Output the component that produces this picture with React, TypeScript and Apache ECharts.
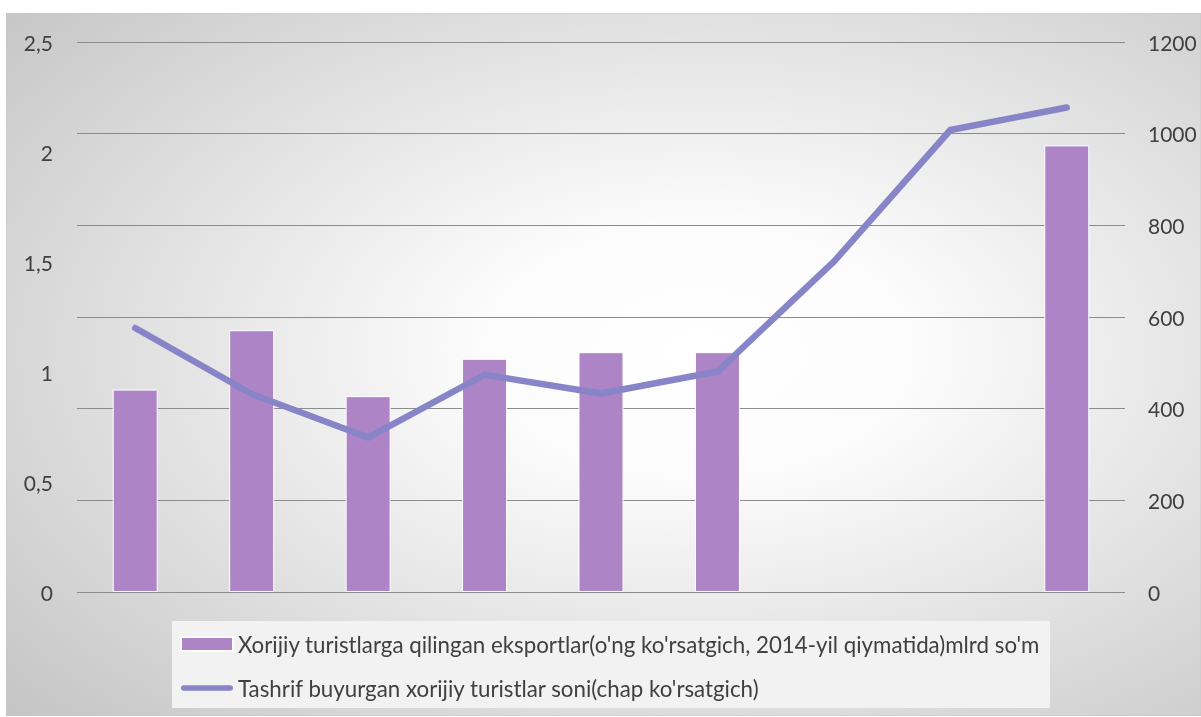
import React, { useEffect, useRef } from "react";
import * as echarts from "echarts";

const categories = ["1", "2", "3", "4", "5", "6", "7", "8", "9"];
const exportValues = [0.92, 1.19, 0.89, 1.06, 1.09, 1.09, null, null, 2.03];
const touristValues = [576, 432, 337, 474, 433, 481, 721, 1008, 1057];
const leftTicks = [0, 0.5, 1, 1.5, 2, 2.5];
const rightTicks = [0, 200, 400, 600, 800, 1000, 1200];

const barName =
  "Xorijiy turistlarga qilingan eksportlar(o'ng ko'rsatgich, 2014-yil qiymatida)mlrd so'm";
const lineName = "Tashrif buyurgan xorijiy turistlar soni(chap ko'rsatgich)";

export default function App() {
  const ref = useRef<HTMLDivElement>(null);
  useEffect(() => {
    if (!ref.current) return;
    const chart = echarts.init(ref.current, null, { renderer: "svg" });
    const font = "Lato, 'Open Sans', sans-serif";
    chart.setOption({
      animation: false,
      graphic: [
        {
          type: "rect",
          z: -10,
          silent: true,
          shape: { x: 0, y: 0, width: 1195, height: 703 },
          style: {
            fill: new echarts.graphic.RadialGradient(0.58, 0.48, 0.8, [
              { offset: 0, color: "#ffffff" },
              { offset: 0.22, color: "#fcfcfc" },
              { offset: 1, color: "#c2c2c2" },
            ]),
            stroke: "#c8c8c8",
            lineWidth: 1,
          },
        },
      ],
      grid: { left: 71, right: 76, top: 29, height: 550, containLabel: false },
      legend: {
        orient: "vertical",
        left: 166,
        top: 608,
        backgroundColor: "#f2f2f2",
        padding: [11, 10, 8, 8],
        itemGap: 20,
        itemWidth: 52,
        itemHeight: 14,
        textStyle: { fontFamily: font, fontSize: 22.3, color: "#404040", lineHeight: 24 },
        data: [
          { name: barName, icon: "rect" },
          { name: lineName, icon: "path://M3,0 L55,0 A3,3 0 0 1 55,6 L3,6 A3,3 0 0 1 3,0 Z" },
        ],
      },
      xAxis: {
        type: "category",
        data: categories,
        axisLine: { show: false },
        axisTick: { show: false },
        axisLabel: { show: false },
      },
      yAxis: [
        {
          type: "value",
          min: leftTicks[0],
          max: leftTicks[leftTicks.length - 1],
          interval: 0.5,
          position: "left",
          axisLine: { show: false },
          axisTick: { show: false },
          splitLine: { show: false },
          axisLabel: {
            margin: 24,
            fontFamily: font,
            fontSize: 21,
            color: "#404040",
            formatter: (v: number) => String(v).replace(".", ","),
          },
        },
        {
          type: "value",
          min: rightTicks[0],
          max: rightTicks[rightTicks.length - 1],
          interval: 200,
          position: "right",
          axisLine: { show: false },
          axisTick: { show: false },
          splitLine: { show: true, lineStyle: { color: "#8c8c8c", width: 1 } },
          axisLabel: {
            margin: 23,
            fontFamily: font,
            fontSize: 21,
            color: "#404040",
            formatter: (v: number) => String(v),
          },
        },
      ],
      series: [
        {
          name: barName,
          type: "bar",
          yAxisIndex: 0,
          data: exportValues,
          barWidth: 45,
          itemStyle: { color: "#ad84c6", borderColor: "#ffffff", borderWidth: 1 },
        },
        {
          name: lineName,
          type: "line",
          yAxisIndex: 1,
          data: touristValues,
          symbol: "none",
          lineStyle: { color: "#8884c8", width: 6.5, cap: "round", join: "round" },
          itemStyle: { color: "#8884c8" },
          z: 5,
        },
      ],
    });
    return () => chart.dispose();
  }, []);
  return (
    <div
      ref={ref}
      style={{ position: "fixed", left: 6, top: 13, width: 1195, height: 703 }}
    />
  );
}
